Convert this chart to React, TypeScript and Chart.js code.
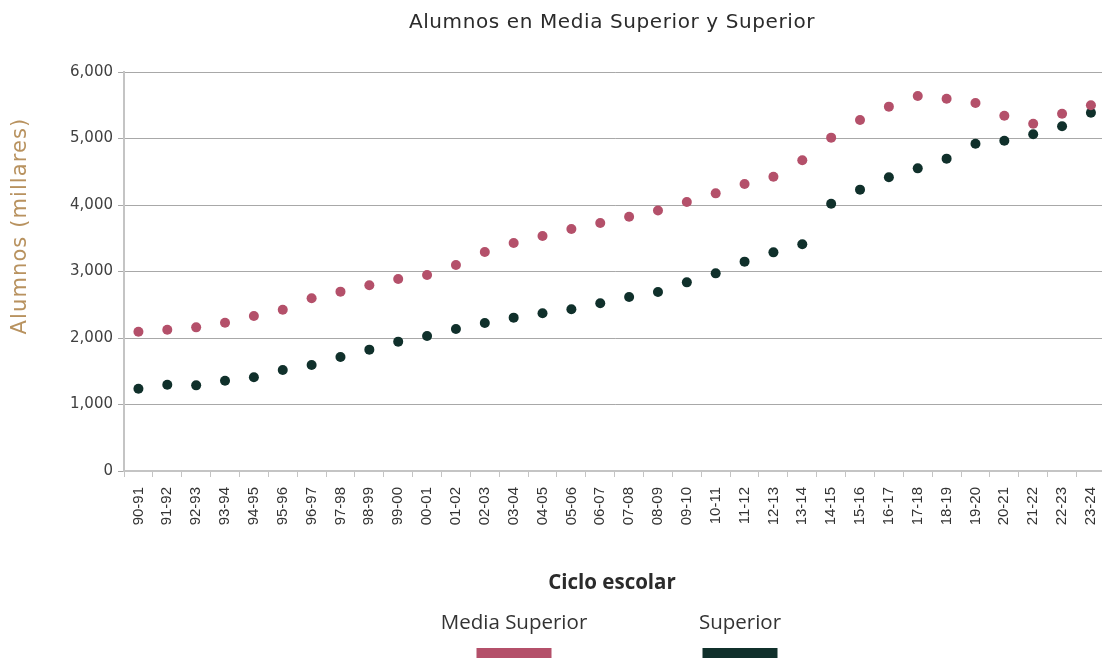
import React, { useEffect, useRef } from "react";
import { Chart, registerables } from "chart.js";

Chart.register(...registerables);

const categories = [
  "90-91", "91-92", "92-93", "93-94", "94-95", "95-96", "96-97", "97-98", "98-99", "99-00",
  "00-01", "01-02", "02-03", "03-04", "04-05", "05-06", "06-07", "07-08", "08-09", "09-10",
  "10-11", "11-12", "12-13", "13-14", "14-15", "15-16", "16-17", "17-18", "18-19", "19-20",
  "20-21", "21-22", "22-23", "23-24",
];

const mediaSuperior = [
  2095, 2125, 2160, 2230, 2330, 2425, 2597, 2697, 2792, 2887,
  2947, 3098, 3293, 3429, 3534, 3639, 3729, 3822, 3918, 4045,
  4175, 4316, 4426, 4672, 5013, 5278, 5479, 5639, 5599, 5534,
  5343, 5223, 5373, 5499,
];

const superior = [
  1238, 1298, 1288, 1358, 1409, 1519, 1594, 1714, 1825, 1945,
  2030, 2135, 2226, 2306, 2371, 2431, 2523, 2617, 2692, 2837,
  2972, 3148, 3288, 3409, 4020, 4231, 4416, 4551, 4697, 4922,
  4967, 5063, 5183, 5388,
];

const yTicks = [0, 1000, 2000, 3000, 4000, 5000, 6000];

const seriesNames = ["Media Superior", "Superior"];
const seriesColors = ["#b4506a", "#10302b"];

const titleText = "Alumnos en Media Superior y Superior";
const yTitleText = "Alumnos (millares)";
const xTitleText = "Ciclo escolar";

const decorPlugin = {
  id: "decor",
  afterDraw(chart: any) {
    const ctx = chart.ctx;
    ctx.save();
    ctx.textAlign = "center";
    ctx.textBaseline = "middle";
    // title
    ctx.fillStyle = "#2b2b2b";
    ctx.font = "20px 'DejaVu Sans'";
    (ctx as any).letterSpacing = "0.6px";
    ctx.fillText(titleText, 612, 23);
    // y title
    ctx.save();
    ctx.translate(21, 226);
    ctx.rotate(-Math.PI / 2);
    ctx.fillStyle = "#b8925f";
    ctx.font = "21px 'DejaVu Sans'";
    (ctx as any).letterSpacing = "1.1px";
    ctx.fillText(yTitleText, 0, 0);
    ctx.restore();
    (ctx as any).letterSpacing = "0px";
    // x title
    ctx.fillStyle = "#2b2b2b";
    ctx.font = "bold 20.5px 'Open Sans'";
    ctx.fillText(xTitleText, 612, 583);
    // legend
    const centers = [514, 740];
    ctx.font = "20.5px 'Open Sans'";
    seriesNames.forEach((name, i) => {
      ctx.fillStyle = "#333333";
      ctx.fillText(name, centers[i], 623);
      ctx.fillStyle = seriesColors[i];
      ctx.fillRect(centers[i] - 37.5, 648, 75, 10);
    });
    ctx.restore();
  },
};

export default function App() {
  const ref = useRef<HTMLCanvasElement>(null);
  useEffect(() => {
    if (!ref.current) return;
    const chart = new Chart(ref.current, {
      type: "line",
      data: {
        labels: categories,
        datasets: [
          {
            label: seriesNames[0],
            data: mediaSuperior,
            showLine: false,
            pointRadius: 5,
            pointBorderWidth: 0,
            pointBackgroundColor: seriesColors[0],
            borderColor: seriesColors[0],
            backgroundColor: seriesColors[0],
          },
          {
            label: seriesNames[1],
            data: superior,
            showLine: false,
            pointRadius: 5,
            pointBorderWidth: 0,
            pointBackgroundColor: seriesColors[1],
            borderColor: seriesColors[1],
            backgroundColor: seriesColors[1],
          },
        ],
      },
      options: {
        responsive: false,
        animation: false,
        locale: "en-US",
        layout: { padding: { top: 72, left: 0, right: 0, bottom: 0 } },
        plugins: {
          legend: { display: false },
          title: { display: false },
          tooltip: { enabled: false },
        },
        scales: {
          x: {
            offset: true,
            grid: {
              offset: true,
              drawOnChartArea: false,
              drawTicks: true,
              tickLength: 6,
              color: "#c4c4c4",
              lineWidth: 1,
            },
            border: { color: "#c4c4c4", width: 2 },
            ticks: {
              autoSkip: false,
              maxRotation: 90,
              minRotation: 90,
              padding: 10,
              color: "#333333",
              font: { family: "'Liberation Sans'", size: 15 },
            },
            afterFit: (scale: any) => {
              scale.height = 189;
            },
          },
          y: {
            min: 0,
            max: 6000,
            afterBuildTicks: (scale: any) => {
              scale.ticks = yTicks.map((v) => ({ value: v }));
            },
            grid: {
              color: "#a8a8a8",
              lineWidth: 1,
              tickLength: 6,
              drawTicks: true,
            },
            border: { color: "#c4c4c4", width: 2 },
            ticks: {
              padding: 5,
              color: "#404040",
              font: { family: "'DejaVu Sans'", size: 15 },
              callback: (v: any) => Number(v).toLocaleString("en-US"),
            },
            afterFit: (scale: any) => {
              scale.width = 124;
            },
          },
        },
      },
      plugins: [decorPlugin],
    });
    return () => chart.destroy();
  }, []);
  return (
    <div
      style={{
        position: "fixed",
        left: 0,
        top: 0,
        width: 1102,
        height: 660,
        overflow: "hidden",
        background: "#ffffff",
      }}
    >
      <canvas ref={ref} width={1119} height={660} style={{ display: "block" }} />
    </div>
  );
}
